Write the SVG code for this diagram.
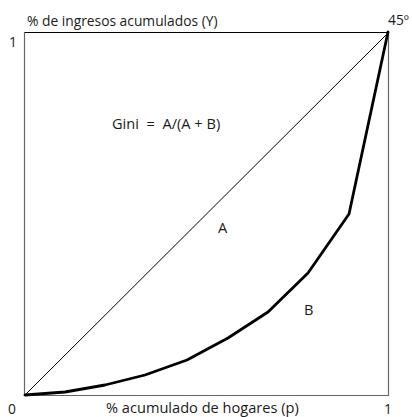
<svg xmlns="http://www.w3.org/2000/svg" width="412" height="417" viewBox="0 0 412 417">
<style>
text{font-family:"Open Sans",Lato,"Liberation Sans",sans-serif;font-size:13.8px;fill:#1a1a1a}
.big{font-size:14.6px}
.frame{fill:none;stroke:#666;stroke-width:1.2}
.top{stroke:#000;stroke-width:1.2}
.diag{stroke:#000;stroke-width:1;fill:none}
.curve{stroke:#000;stroke-width:2.8;fill:none;stroke-linejoin:round;stroke-linecap:round}
</style>
<rect width="412" height="417" fill="#fff"/>
<g id="axes">
<polyline class="frame" points="24.5,32.5 24.5,395.5 388.5,395.5 388.5,32.5"/>
<line class="top" x1="24.5" y1="32.5" x2="388.5" y2="32.5"/>
</g>
<g id="connectors">
<line id="equality" class="diag" x1="24.5" y1="395.5" x2="388.5" y2="32.5"/>
<polyline id="lorenz" class="curve" points="25,395 65,392 105,385 145,375 187,360 228,338 268,312 308,273 349,214 388,32"/>
</g>
<g id="labels">
<text x="27" y="26">% de ingresos acumulados (Y)</text>
<text x="388" y="25">45º</text>
<text x="9" y="47">1</text>
<text class="big" x="112" y="129" xml:space="preserve">Gini  =  A/(A + B)</text>
<text class="big" x="218" y="233">A</text>
<text class="big" x="304" y="315">B</text>
<text x="8" y="414">0</text>
<text class="big" x="106" y="413">% acumulado de hogares (p)</text>
<text x="384" y="414">1</text>
</g>
</svg>
